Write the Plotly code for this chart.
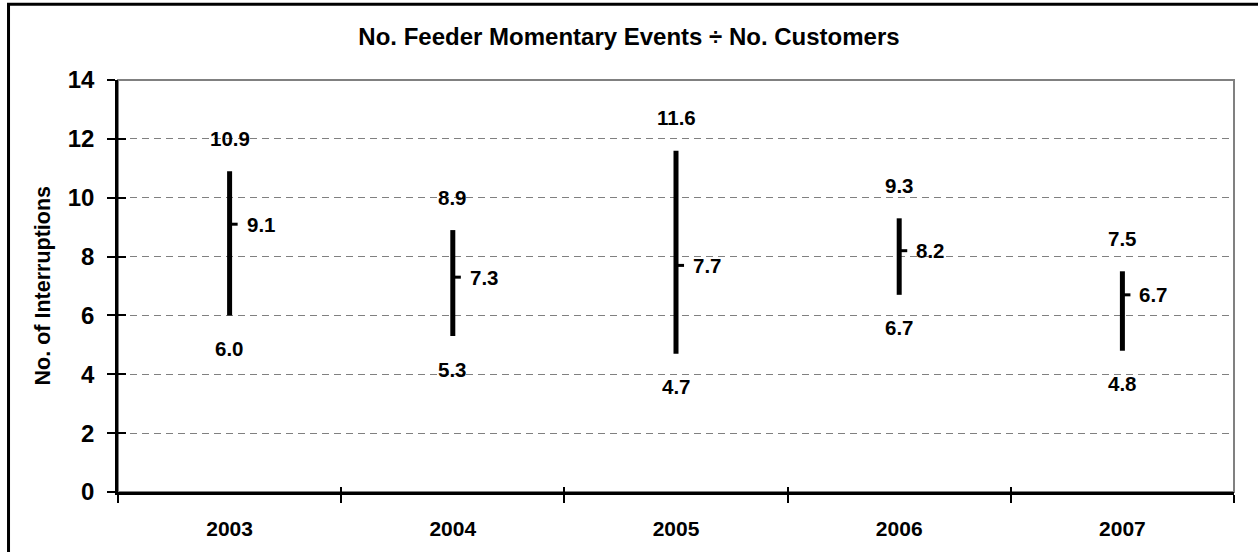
import plotly.graph_objects as go

years = ["2003", "2004", "2005", "2006", "2007"]
high_vals = [10.9, 8.9, 11.6, 9.3, 7.5]
mean_vals = [9.1, 7.3, 7.7, 8.2, 6.7]
low_vals = [6.0, 5.3, 4.7, 6.7, 4.8]
y_ticks = [0, 2, 4, 6, 8, 10, 12, 14]

FONT = "Liberation Sans, Arial, sans-serif"
idx = list(range(len(years)))

# high-low lines
lx, ly = [], []
for i, (h, l) in enumerate(zip(high_vals, low_vals)):
    lx += [i, i, None]
    ly += [l, h, None]

# mean ticks (to the right of each line)
TICK_W = 0.036
mx, my = [], []
for i, m in enumerate(mean_vals):
    mx += [i, i + TICK_W, None]
    my += [m, m, None]

fig = go.Figure()
fig.add_trace(go.Scatter(x=lx, y=ly, mode="lines", line=dict(color="black", width=5),
                         hoverinfo="skip", showlegend=False))
fig.add_trace(go.Scatter(x=mx, y=my, mode="lines", line=dict(color="black", width=3),
                         hoverinfo="skip", showlegend=False))
# invisible trace for overlay axes (crossing ticks)
fig.add_trace(go.Scatter(x=[None], y=[None], xaxis="x2", yaxis="y2", mode="markers",
                         hoverinfo="skip", showlegend=False))

lab_font = dict(family=FONT, size=20.5, color="black", weight="bold")
for i in idx:
    fig.add_annotation(x=i, y=high_vals[i], text=f"{high_vals[i]:.1f}", showarrow=False,
                       yshift=33, xanchor="center", yanchor="middle", font=lab_font)
    fig.add_annotation(x=i, y=low_vals[i], text=f"{low_vals[i]:.1f}", showarrow=False,
                       yshift=-33, xanchor="center", yanchor="middle", font=lab_font)
    fig.add_annotation(x=i, y=mean_vals[i], text=f"{mean_vals[i]:.1f}", showarrow=False,
                       xshift=15, xanchor="left", yanchor="middle", font=lab_font)

# y axis title
fig.add_annotation(xref="paper", yref="paper", x=-0.0668, y=0.5, text="No. of Interruptions",
                   textangle=-90, showarrow=False, xanchor="center", yanchor="middle",
                   font=dict(family=FONT, size=21.5, color="black", weight="bold"))

# plot area border (gray top/right)
fig.add_shape(type="rect", xref="paper", yref="paper", x0=0, x1=1, y0=0, y1=1,
              line=dict(color="#808080", width=2), layer="below")
# outer chart frame
fig.add_shape(type="rect", xref="paper", yref="paper", x0=-0.0981, x1=1.05, y0=-0.2, y1=1.1837,
              line=dict(color="black", width=3), layer="above")

boundaries = [i - 0.5 for i in range(len(years) + 1)]

fig.update_layout(
    width=1258, height=552,
    margin=dict(l=118, r=24, t=80, b=60),
    paper_bgcolor="white", plot_bgcolor="white",
    title=dict(text="No. Feeder Momentary Events ÷ No. Customers", x=0.5, xanchor="center",
               y=1 - 37 / 552, yanchor="middle", yref="container",
               font=dict(family=FONT, size=24, color="black", weight="bold")),
    xaxis=dict(range=[-0.5, len(years) - 0.5], tickmode="array", tickvals=idx, ticktext=years,
               ticks="", showgrid=False, zeroline=False, showline=True, linecolor="black",
               linewidth=2.5, ticklabelstandoff=16,
               tickfont=dict(family=FONT, size=21, color="black", weight="bold"),
               minor=dict(tickmode="array", tickvals=boundaries, ticks="outside", ticklen=8,
                          tickwidth=2, tickcolor="black", showgrid=False)),
    xaxis2=dict(range=[-0.5, len(years) - 0.5], overlaying="x", anchor="y", tickmode="array",
                tickvals=boundaries, ticks="inside", ticklen=5, tickwidth=2, tickcolor="black",
                showticklabels=False, showgrid=False, zeroline=False, showline=False),
    yaxis=dict(range=[0, 14], tickmode="array", tickvals=y_ticks, ticks="outside", ticklen=8,
               tickwidth=2, tickcolor="black", showline=True, linecolor="black", linewidth=2.5,
               zeroline=False, showgrid=True, gridcolor="#808080", gridwidth=1,
               griddash="7px,5px", ticklabelstandoff=8,
               tickfont=dict(family=FONT, size=24, color="black", weight="bold")),
    yaxis2=dict(range=[0, 14], overlaying="y", anchor="x", side="left", tickmode="array",
                tickvals=y_ticks, ticks="inside", ticklen=8, tickwidth=2, tickcolor="black",
                showticklabels=False, showgrid=False, zeroline=False, showline=False),
)

fig.write_html("out.html", config={"displayModeBar": False},
               post_script="document.body.style.margin='0px';")
